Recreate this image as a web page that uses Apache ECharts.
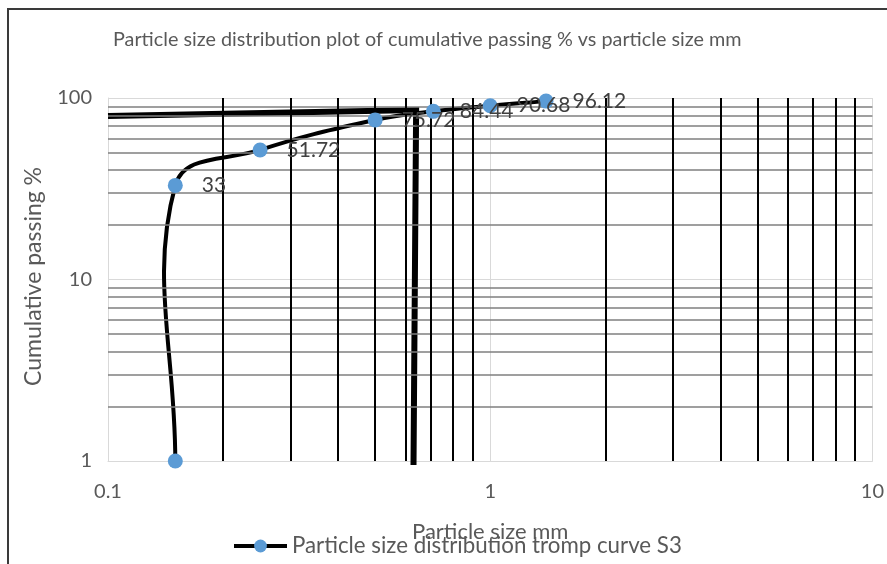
<!DOCTYPE html>
<html>
<head>
<meta charset="utf-8">
<script src="https://cdn.jsdelivr.net/npm/echarts@6/dist/echarts.min.js"></script>
<style>
  html, body { margin: 0; padding: 0; background: #fff; }
  #chart { width: 887px; height: 564px; }
</style>
</head>
<body>
<div id="chart"></div>
<script>
// Sieve results: particle size (mm) and cumulative passing (%)
const sizes = [0.15, 0.15, 0.25, 0.5, 0.71, 1.0, 1.4];
const passing = [1, 33, 51.72, 75.72, 84.44, 90.68, 96.12];
// Points whose value is printed beside the marker
const labelled = [false, true, true, true, true, true, true];

// Reading guide drawn over the plot (size, passing)
const guideSizes = [0.1, 0.64, 0.63];
const guidePassing = [79.6, 85.9, 0.95];

// Logarithmic sub-divisions used for the fine grid
const minorSizes = [0.2, 0.3, 0.4, 0.5, 0.6, 0.7, 0.8, 0.9, 2, 3, 4, 5, 6, 7, 8, 9];
const minorPassing = [2, 3, 4, 5, 6, 7, 8, 9, 20, 30, 40, 50, 60, 70, 80, 90];

const FONT = 'Lato';
const seriesName = 'Particle size distribution tromp curve S3';
const SMOOTH = 0.4;

const chart = echarts.init(document.getElementById('chart'), null, { renderer: 'canvas' });

const curveData = sizes.map((s, i) => ({
  value: [s, passing[i]],
  label: { show: labelled[i] }
}));

// Smooth cubic path through the points (tangent along neighbour chord,
// control lengths split by adjacent segment lengths, no clamping).
function smoothPath(pts, smooth) {
  const n = pts.length;
  const cps = pts.map((p, i) => {
    const prev = pts[Math.max(i - 1, 0)];
    const next = pts[Math.min(i + 1, n - 1)];
    const vx = next[0] - prev[0];
    const vy = next[1] - prev[1];
    const lp = Math.hypot(p[0] - prev[0], p[1] - prev[1]);
    const ln = Math.hypot(next[0] - p[0], next[1] - p[1]);
    const r = (lp + ln) > 0 ? ln / (lp + ln) : 0.5;
    return {
      before: [p[0] - vx * smooth * (1 - r), p[1] - vy * smooth * (1 - r)],
      after: [p[0] + vx * smooth * r, p[1] + vy * smooth * r]
    };
  });
  let d = 'M' + pts[0][0] + ' ' + pts[0][1];
  for (let i = 1; i < n; i++) {
    const a = cps[i - 1].after, b = cps[i].before, p = pts[i];
    d += ' C' + a[0] + ' ' + a[1] + ' ' + b[0] + ' ' + b[1] + ' ' + p[0] + ' ' + p[1];
  }
  return d;
}

chart.setOption({
  animation: false,
  backgroundColor: '#ffffff',
  textStyle: { fontFamily: FONT },
  title: {
    text: 'Particle size distribution plot of cumulative passing % vs particle size mm',
    left: 113,
    top: 30,
    padding: 0,
    textStyle: { fontFamily: FONT, fontSize: 19.8, fontWeight: 'normal', color: '#595959' }
  },
  graphic: [{
    type: 'rect',
    shape: { x: 8, y: 9, width: 920, height: 600 },
    style: { fill: 'none', stroke: '#3a3a3a', lineWidth: 2 },
    silent: true,
    z: 100
  }],
  legend: {
    data: [seriesName],
    left: 232,
    top: 535,
    padding: 0,
    itemWidth: 53,
    itemHeight: 16,
    itemGap: 6,
    lineStyle: { color: '#000000', width: 4, opacity: 1 },
    textStyle: { fontFamily: FONT, fontSize: 22.3, color: '#595959' }
  },
  grid: { left: 108, top: 98, width: 769, height: 363, containLabel: false },
  xAxis: {
    type: 'log',
    logBase: 10,
    min: 0.1,
    max: 10,
    name: 'Particle size mm',
    nameLocation: 'middle',
    nameGap: 60,
    nameTextStyle: { fontFamily: FONT, fontSize: 22, color: '#595959' },
    axisLine: { show: true, lineStyle: { color: '#d9d9d9', width: 1 } },
    axisTick: { show: false },
    axisLabel: {
      fontFamily: FONT, fontSize: 20, color: '#595959', margin: 21,
      formatter: v => String(+v.toPrecision(3))
    },
    splitLine: { show: true, lineStyle: { color: '#d9d9d9', width: 1 } }
  },
  yAxis: {
    type: 'log',
    logBase: 10,
    min: 1,
    max: 100,
    name: 'Cumulative passing %',
    nameLocation: 'middle',
    nameGap: 63,
    nameRotate: 90,
    nameTextStyle: { fontFamily: FONT, fontSize: 23, color: '#595959', padding: [0, 0, 0, 6] },
    axisLine: { show: true, lineStyle: { color: '#d9d9d9', width: 1 } },
    axisTick: { show: false },
    axisLabel: { fontFamily: FONT, fontSize: 20, color: '#595959', margin: 16 },
    splitLine: { show: true, lineStyle: { color: '#d9d9d9', width: 1 } }
  },
  series: [
    {
      // fine logarithmic grid
      type: 'line',
      name: 'grid',
      data: sizes.map((s, i) => [s, passing[i]]),
      showSymbol: false,
      lineStyle: { opacity: 0 },
      silent: true,
      z: 1,
      markLine: {
        silent: true,
        symbol: 'none',
        label: { show: false },
        animation: false,
        data: [
          ...minorPassing.map(v => ({ yAxis: v, lineStyle: { color: '#7f7f7f', width: 1.5, type: 'solid' } })),
          ...minorSizes.map(v => ({ xAxis: v, lineStyle: { color: '#000000', width: 2, type: 'solid' } }))
        ]
      }
    },
    {
      // reading guide
      type: 'line',
      name: 'guide',
      data: guideSizes.map((s, i) => [s, guidePassing[i]]),
      showSymbol: false,
      clip: false,
      silent: true,
      lineStyle: { color: '#000000', width: 6, cap: 'butt', join: 'miter' },
      z: 3
    },
    {
      // smoothed distribution curve
      type: 'custom',
      name: 'curve',
      data: [0],
      silent: true,
      z: 4,
      renderItem: (params, api) => {
        const pts = sizes.map((s, i) => api.coord([s, passing[i]]));
        return {
          type: 'path',
          shape: { pathData: smoothPath(pts, SMOOTH) },
          style: { fill: 'none', stroke: '#000000', lineWidth: 4 }
        };
      }
    },
    {
      type: 'line',
      name: seriesName,
      data: curveData,
      symbol: 'circle',
      symbolSize: 15,
      itemStyle: { color: '#5b9bd5' },
      lineStyle: { color: '#000000', width: 4, opacity: 0 },
      z: 5,
      label: {
        show: true,
        position: 'right',
        distance: 19,
        fontFamily: FONT,
        fontSize: 21,
        color: '#404040',
        formatter: p => String(p.value[1])
      }
    }
  ]
});
</script>
</body>
</html>
